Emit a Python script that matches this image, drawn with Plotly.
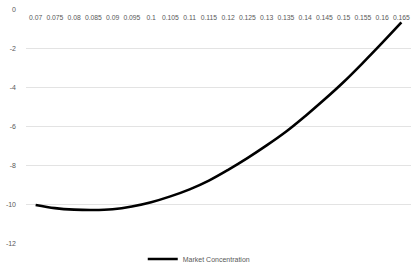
import plotly.graph_objects as go

categories = ["0.07", "0.075", "0.08", "0.085", "0.09", "0.095", "0.1", "0.105", "0.11", "0.115",
              "0.12", "0.125", "0.13", "0.135", "0.14", "0.145", "0.15", "0.155", "0.16", "0.165"]
market_concentration = [-10.00, -10.16, -10.24, -10.26, -10.22, -10.08, -9.86, -9.56, -9.20, -8.75,
                        -8.20, -7.60, -6.95, -6.25, -5.45, -4.60, -3.70, -2.72, -1.70, -0.65]
y_ticks = [0, -2, -4, -6, -8, -10, -12]
series_name = "Market Concentration"

fig = go.Figure()
fig.add_trace(go.Scatter(
    x=categories, y=market_concentration, mode="lines", name=series_name,
    line=dict(color="#000000", width=2.6, shape="spline"),
))

fig.update_layout(
    width=411, height=267,
    margin=dict(l=26, r=0, t=9, b=23, autoexpand=False),
    paper_bgcolor="white", plot_bgcolor="white",
    font=dict(family="Liberation Sans, Arial, sans-serif", size=7, color="#595959"),
    showlegend=True,
    legend=dict(orientation="h", x=0.45, xanchor="center", y=-0.064, yanchor="middle",
                font=dict(size=7, color="#595959"), itemwidth=30,
                bgcolor="rgba(0,0,0,0)"),
    xaxis=dict(type="category", side="bottom", anchor="free", position=1.0,
               showgrid=False, showline=False, zeroline=False, ticks="",
               automargin=False, ticklabelstandoff=3,
               tickfont=dict(size=6.8, color="#595959"), range=[-0.5, 19.5]),
    yaxis=dict(range=[-12, 0.04], tickvals=y_ticks, ticktext=[str(v) for v in y_ticks],
               showgrid=True, gridcolor="#e3e3e3", gridwidth=1,
               zeroline=False, showline=False, ticks="",
               automargin=False,
               ticklabelstandoff=9,
               tickfont=dict(size=7, color="#595959")),
)

fig.write_html("out.html", config={"displayModeBar": False},
               post_script="document.body.style.margin='0px';")
